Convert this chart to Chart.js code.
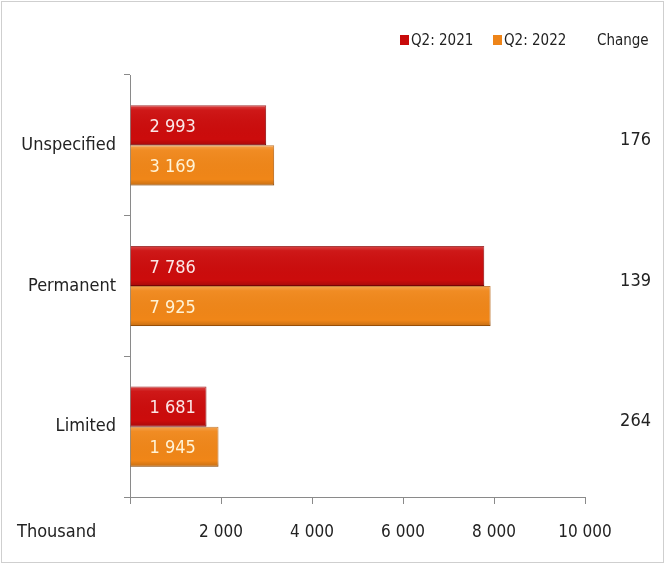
<!DOCTYPE html>
<html>
<head>
<meta charset="utf-8">
<script src="https://cdn.jsdelivr.net/npm/chart.js@4.4.0/dist/chart.umd.min.js"></script>
<style>
  html, body { margin: 0; padding: 0; background: #fff; }
  #wrap { width: 665px; height: 564px; position: relative; }
</style>
</head>
<body>
<div id="wrap"><canvas id="chart" width="665" height="564"></canvas></div>
<script>
const categories = ['Unspecified', 'Permanent', 'Limited'];
const seriesNames = ['Q2: 2021', 'Q2: 2022'];
const values2021 = [2993, 7786, 1681];
const values2022 = [3169, 7925, 1945];
const changes = [176, 139, 264];
const xTicks = [0, 2000, 4000, 6000, 8000, 10000];

const FONT = "'DejaVu Sans Condensed', 'Liberation Sans Narrow', 'Liberation Sans', sans-serif";

function fmt(n) {
  return String(n).replace(/\B(?=(\d{3})+(?!\d))/g, ' ');
}

// bars with a little bevel like the office chart
const bevelBars = {
  id: 'bevelBars',
  afterDatasetsDraw(chart) {
    const ctx = chart.ctx;
    chart.data.datasets.forEach((ds, di) => {
      const meta = chart.getDatasetMeta(di);
      meta.data.forEach((bar) => {
        const h = bar.height;
        const x0 = bar.base, x1 = bar.x;
        const y0 = bar.y - h / 2;
        ctx.save();
        const g = ctx.createLinearGradient(0, y0, 0, y0 + h);
        g.addColorStop(0, 'rgba(255,255,255,0.25)');
        g.addColorStop(0.12, 'rgba(255,255,255,0.05)');
        g.addColorStop(0.85, 'rgba(0,0,0,0)');
        g.addColorStop(1, 'rgba(0,0,0,0.18)');
        ctx.fillStyle = g;
        ctx.fillRect(x0, y0, x1 - x0, h);
        ctx.restore();
      });
    });
  }
};

const extras = {
  id: 'extras',
  beforeDraw(chart) {
    const ctx = chart.ctx;
    ctx.save();
    ctx.fillStyle = '#fff';
    ctx.fillRect(0, 0, chart.width, chart.height);
    ctx.strokeStyle = '#cfcfcf';
    ctx.lineWidth = 1;
    ctx.strokeRect(1.5, 1.5, chart.width - 3, chart.height - 3);
    ctx.restore();
  },
  afterDraw(chart) {
    const ctx = chart.ctx;
    const y = chart.scales.y;
    ctx.save();
    // value labels inside the bars
    ctx.font = '18px ' + FONT;
    ctx.textBaseline = 'middle';
    ctx.textAlign = 'left';
    chart.data.datasets.forEach((ds, di) => {
      const meta = chart.getDatasetMeta(di);
      meta.data.forEach((bar, i) => {
        ctx.fillStyle = di === 0 ? '#fbe7e7' : '#fff3d6';
        ctx.fillText(fmt(ds.data[i]), bar.base + 19, bar.y + 2);
      });
    });
    // change column
    ctx.fillStyle = '#222';
    ctx.textAlign = 'right';
    ctx.font = '18px ' + FONT;
    changes.forEach((c, i) => {
      ctx.fillText(String(c), 651, y.getPixelForValue(i) - 5);
    });
    // legend
    ctx.font = '15px ' + FONT;
    ctx.textAlign = 'left';
    const colors = ['#c80a0a', '#ee8418'];
    const lx = [400, 493];
    seriesNames.forEach((n, i) => {
      ctx.fillStyle = colors[i];
      ctx.fillRect(lx[i], 35, 9, 10);
      ctx.fillStyle = '#222';
      ctx.fillText(n, lx[i] + 11, 41);
    });
    ctx.fillText('Change', 597, 41);
    // unit label
    ctx.font = '18px ' + FONT;
    ctx.fillText('Thousand', 17, 532);
    ctx.restore();
  }
};

new Chart(document.getElementById('chart'), {
  type: 'bar',
  data: {
    labels: categories,
    datasets: [
      {
        label: seriesNames[0],
        data: values2021,
        backgroundColor: '#cc0c0c',
        borderColor: '#8e0505',
        borderWidth: 1
      },
      {
        label: seriesNames[1],
        data: values2022,
        backgroundColor: '#f08618',
        borderColor: '#b45d08',
        borderWidth: 1
      }
    ]
  },
  options: {
    indexAxis: 'y',
    responsive: false,
    animation: false,
    devicePixelRatio: 1,
    categoryPercentage: 0.57,
    barPercentage: 1.0,
    layout: { padding: { top: 75, right: 80, bottom: 0, left: 0 } },
    plugins: {
      legend: { display: false },
      tooltip: { enabled: false }
    },
    scales: {
      x: {
        min: 0,
        max: 10000,
        afterBuildTicks(scale) {
          scale.ticks = xTicks.map(v => ({ value: v }));
        },
        afterFit(scale) { scale.height = 67; },
        grid: {
          display: true,
          drawOnChartArea: false,
          drawTicks: true,
          tickLength: 7,
          color: '#8a8a8a'
        },
        border: { display: true, color: '#8a8a8a' },
        ticks: {
          padding: 18,
          color: '#222',
          font: { family: FONT, size: 17 },
          callback: (v) => (v === 0 ? '' : fmt(v))
        }
      },
      y: {
        afterFit(scale) { scale.width = 130; },
        grid: {
          display: true,
          offset: true,
          drawOnChartArea: false,
          tickLength: 6,
          color: '#8a8a8a'
        },
        border: { display: true, color: '#8a8a8a' },
        ticks: {
          padding: 8,
          color: '#222',
          font: { family: FONT, size: 18 }
        }
      }
    }
  },
  plugins: [extras, bevelBars]
});
</script>
</body>
</html>
